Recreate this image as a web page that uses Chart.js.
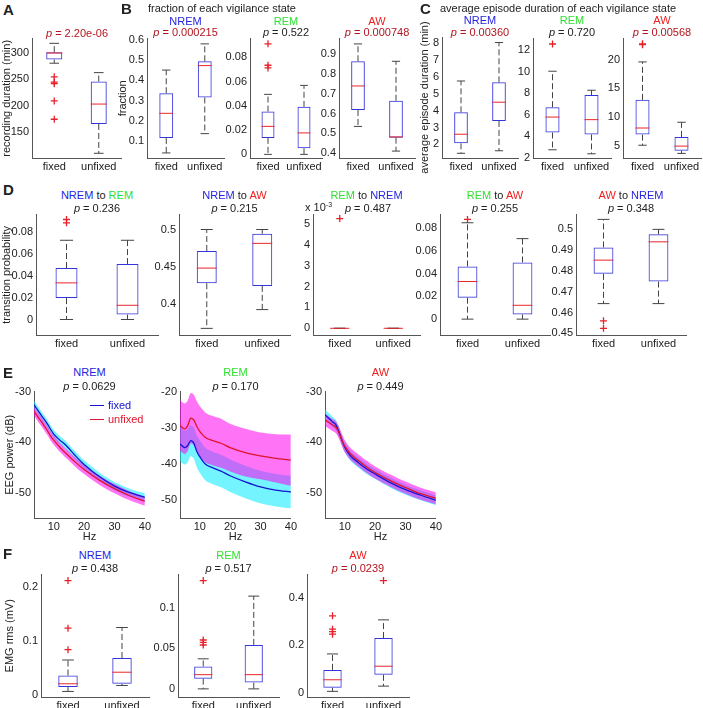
<!DOCTYPE html>
<html>
<head>
<meta charset="utf-8">
<script src="https://cdn.jsdelivr.net/npm/chart.js@4.4.1/dist/chart.umd.min.js"></script>
<style>
body { margin: 0; background: #fff; }
#fig { position: relative; width: 703px; height: 708px; overflow: hidden; font-family: "Liberation Sans", Arial, sans-serif; color: #222; }
#fig canvas { position: absolute; }
.t { position: absolute; white-space: nowrap; font-size: 11px; line-height: 1; }
.c { transform: translate(-50%, -50%); }
.l { transform: translateY(-50%); }
.L { position: absolute; font-weight: bold; font-size: 15px; line-height: 1; }
.ln { position: absolute; height: 1.5px; }
</style>
</head>
<body>
<div id="fig"></div>
<script>
// ---- data ----
const groups = ['fixed', 'unfixed'];

// A: recording duration (min)
const recTicks = [150, 200, 250, 300];
const recBox = [[288, 302], [165, 246]];
const recMed = [300.5, 203];
const recWhisk = [[281, 319], [109, 263]];
const recOut = [[255, 245, 242, 209, 174], []];

// B: fraction of each state
const fracNremTicks = [0.1, 0.2, 0.3, 0.4, 0.5, 0.6];
const fracNremBox = [[0.116, 0.336], [0.315, 0.493]];
const fracNremMed = [0.237, 0.472];
const fracNremWhisk = [[0.042, 0.45], [0.137, 0.579]];
const fracNremOut = [[], []];

const fracRemTicks = [0, 0.02, 0.04, 0.06, 0.08];
const fracRemBox = [[0.0136, 0.0353], [0.0051, 0.0392]];
const fracRemMed = [0.0231, 0.0177];
const fracRemWhisk = [[0, 0.0495], [0, 0.0569]];
const fracRemOut = [[0.0912, 0.0735, 0.0713], []];

const fracAwTicks = [0.4, 0.5, 0.6, 0.7, 0.8, 0.9];
const fracAwBox = [[0.6185, 0.865], [0.478, 0.665]];
const fracAwMed = [0.74, 0.482];
const fracAwWhisk = [[0.535, 0.953], [0.41, 0.865]];
const fracAwOut = [[], []];

// C: average episode duration (min)
const durNremTicks = [2, 3, 4, 5, 6, 7, 8];
const durNremBox = [[2.06, 3.9], [3.39, 5.68]];
const durNremMed = [2.6, 4.5];
const durNremWhisk = [[1.47, 5.76], [1.62, 8.04]];
const durNremOut = [[], []];

const durRemTicks = [2, 4, 6, 8, 10, 12];
const durRemBox = [[4.36, 6.7], [4.18, 7.82]];
const durRemMed = [5.79, 5.55];
const durRemWhisk = [[2.76, 10.03], [2.39, 8.27]];
const durRemOut = [[12.55], []];

const durAwTicks = [5, 10, 15, 20];
const durAwBox = [[6.95, 13.0], [4.15, 6.55]];
const durAwMed = [8.1, 4.95];
const durAwWhisk = [[5.1, 19.6], [3.68, 9.1]];
const durAwOut = [[22.75, 22.6], []];

// D: transition probability
const nrToRemTicks = [0, 0.02, 0.04, 0.06, 0.08];
const nrToRemBox = [[0.0196, 0.0471], [0.0045, 0.0507]];
const nrToRemMed = [0.0335, 0.013];
const nrToRemWhisk = [[0, 0.0725], [0, 0.0725]];
const nrToRemOut = [[0.0915, 0.0885], []];

const nrToAwTicks = [0.4, 0.45, 0.5];
const nrToAwBox = [[0.4279, 0.4712], [0.4243, 0.4942]];
const nrToAwMed = [0.4482, 0.4814];
const nrToAwWhisk = [[0.3673, 0.5], [0.3925, 0.5]];
const nrToAwOut = [[], []];

// REM to NREM, in units of 1e-3
const remToNrTicks = [0, 1, 2, 3, 4, 5];
const remToNrBox = [[0, 0], [0, 0]];
const remToNrMed = [0, 0];
const remToNrWhisk = [[0, 0], [0, 0]];
const remToNrOut = [[5.25], []];

const remToAwTicks = [0, 0.02, 0.04, 0.06, 0.08];
const remToAwBox = [[0.0189, 0.0465], [0.0041, 0.05]];
const remToAwMed = [0.0332, 0.0122];
const remToAwWhisk = [[0, 0.085], [0, 0.071]];
const remToAwOut = [[0.0879], []];

const awToNrTicks = [0.45, 0.46, 0.47, 0.48, 0.49, 0.5];
const awToNrBox = [[0.4786, 0.4913], [0.4749, 0.4976]];
const awToNrMed = [0.4852, 0.494];
const awToNrWhisk = [[0.4643, 0.5048], [0.4643, 0.5]];
const awToNrOut = [[0.456, 0.4524], []];

// E: EEG power spectra (dB), mean and error band
const hz = [3.5, 5, 6, 7, 8, 9, 10, 12, 14, 17, 20, 25, 30, 35, 40];
const hzTicks = [10, 20, 30, 40];
const eegTicks = [-50, -40, -30];
const eegRemTicks = [-50, -40, -30, -20];

const nremFixed   = [-32.6, -33.9, -34.8, -35.6, -36.5, -37.5, -38.4, -39.6, -40.6, -42.6, -44.4, -46.8, -48.7, -50.0, -50.9];
const nremUnfixed = [-33.9, -35.2, -36.0, -36.9, -37.8, -38.8, -39.6, -41.0, -42.2, -43.9, -45.4, -47.5, -49.2, -50.6, -51.7];
const nremFixedErr   = [0.8, 0.8, 0.8, 0.8, 0.8, 0.8, 0.8, 0.8, 0.8, 0.8, 0.8, 0.8, 0.8, 0.8, 0.8];
const nremUnfixedErr = [0.9, 0.9, 0.9, 0.9, 0.9, 0.9, 0.9, 0.9, 0.9, 0.9, 0.9, 0.9, 0.9, 0.9, 0.9];

const remFixed   = [-34.5, -35.5, -35.0, -33.6, -34.2, -36.5, -38.0, -40.2, -41.0, -42.0, -43.3, -45.0, -46.4, -47.3, -47.8];
const remUnfixed = [-29.4, -30.3, -29.5, -27.4, -27.8, -29.6, -31.0, -32.8, -33.5, -34.3, -35.5, -36.9, -37.8, -38.5, -39.0];
const remFixedErr   = [4.8, 4.7, 4.6, 4.3, 4.3, 4.4, 4.5, 4.5, 4.5, 4.5, 4.5, 4.5, 4.5, 4.5, 4.5];
const remUnfixedErr = [7.0, 7.0, 7.0, 7.0, 7.0, 7.0, 7.0, 6.9, 6.8, 6.8, 6.6, 6.6, 6.5, 6.7, 7.1];

const awFixed   = [-34.6, -35.4, -36.0, -36.5, -37.8, -39.5, -41.0, -42.8, -43.8, -45.2, -46.3, -48.0, -49.4, -50.5, -51.5];
const awUnfixed = [-35.6, -36.2, -36.6, -37.0, -38.0, -39.5, -40.8, -42.4, -43.4, -44.8, -46.0, -47.6, -49.0, -50.2, -51.1];
const awFixedErr   = [1.0, 1.0, 1.0, 1.0, 1.0, 1.0, 1.0, 1.0, 1.0, 1.0, 1.0, 1.0, 1.0, 1.0, 1.0];
const awUnfixedErr = [1.2, 1.2, 1.2, 1.2, 1.2, 1.2, 1.2, 1.2, 1.2, 1.2, 1.2, 1.2, 1.2, 1.2, 1.2];

// F: EMG rms (mV)
const emgNremTicks = [0, 0.1, 0.2];
const emgNremBox = [[0.0153, 0.0367], [0.0214, 0.0691]];
const emgNremMed = [0.0214, 0.0428];
const emgNremWhisk = [[0.0073, 0.0654], [0.0183, 0.1254]];
const emgNremOut = [[0.2122, 0.1242, 0.0844], []];

const emgRemTicks = [0, 0.05, 0.1];
const emgRemBox = [[0.0126, 0.0276], [0.0077, 0.0541]];
const emgRemMed = [0.0175, 0.0175];
const emgRemWhisk = [[0, 0.037], [0, 0.1142]];
const emgRemOut = [[0.1333, 0.0602, 0.0573, 0.054], []];

const emgAwTicks = [0, 0.2, 0.4];
const emgAwBox = [[0.0222, 0.097], [0.0764, 0.2306]];
const emgAwMed = [0.0556, 0.1125];
const emgAwWhisk = [[0.007, 0.164], [0.029, 0.307]];
const emgAwOut = [[0.324, 0.268, 0.258, 0.247], [0.472]];

// ---- styles ----
const FONT = '"Liberation Sans", Arial, sans-serif';
const BOX_BLUE = '#3434dc';
const MED_RED = '#e8262b';
const OUT_RED = '#e8202a';
const AXIS = '#555';
const C_NREM = '#2424e0', C_REM = '#30e030', C_AW = '#ee2020', C_SIG = '#b4141e';

Chart.defaults.font.family = FONT;
Chart.defaults.font.size = 11;
Chart.defaults.color = '#222';

// whiskers, caps and medians for the box datasets
Chart.register({
    id: 'boxWhiskers',
    afterDatasetsDraw(chart) {
        const ds = chart.data.datasets[0];
        if (!ds.whiskers) return;
        const y = chart.scales.y;
        const ctx = chart.ctx;
        const seg = (x1, y1, x2, y2) => { ctx.beginPath(); ctx.moveTo(x1, y1); ctx.lineTo(x2, y2); ctx.stroke(); };
        chart.getDatasetMeta(0).data.forEach((bar, i) => {
            const [lo, hi] = ds.whiskers[i];
            const [q1, q3] = ds.data[i];
            const x = bar.x, hw = bar.width / 2, cw = bar.width * 0.3;
            const yLo = y.getPixelForValue(lo), yHi = y.getPixelForValue(hi);
            ctx.save();
            ctx.lineWidth = 1;
            ctx.strokeStyle = '#444';
            ctx.setLineDash([6, 3]);
            seg(x, y.getPixelForValue(q3), x, yHi);
            seg(x, y.getPixelForValue(q1), x, yLo);
            ctx.setLineDash([]);
            seg(x - cw, yHi, x + cw, yHi);
            seg(x - cw, yLo, x + cw, yLo);
            ctx.strokeStyle = MED_RED;
            const ym = y.getPixelForValue(ds.medians[i]);
            seg(x - hw, ym, x + hw, ym);
            ctx.restore();
        });
    }
});

const fig = document.getElementById('fig');
const fmt = v => String(Math.round(v * 1e6) / 1e6);

function makeCanvas(g) {
    const pt = g.pt || 8, pr = 8;
    const c = document.createElement('canvas');
    c.width = g.x1 - g.x0 + g.yw + pr;
    c.height = g.y1 - g.y0 + pt + g.xh;
    c.style.left = (g.x0 - g.yw) + 'px';
    c.style.top = (g.y0 - pt) + 'px';
    fig.appendChild(c);
    return { c, pt, pr };
}

function baseOptions(p, pt, pr) {
    return {
        responsive: false, animation: false, events: [],
        layout: { padding: { top: pt, right: pr, left: 0, bottom: 0 } },
        plugins: { legend: { display: false }, tooltip: { enabled: false } },
        scales: {
            x: {
                grid: { display: false, drawTicks: false },
                border: { color: AXIS, width: 1 },
                ticks: { padding: 2, autoSkip: false, maxRotation: 0 },
                title: p.xlabel ? { display: true, text: p.xlabel, padding: 0 } : { display: false },
                afterFit(s) { s.height = p.g.xh; }
            },
            y: {
                min: p.min, max: p.max,
                grid: { display: false, drawTicks: false },
                border: { color: AXIS, width: 1 },
                ticks: { padding: 3, callback: v => fmt(v) },
                afterBuildTicks(s) { s.ticks = p.ticks.map(v => ({ value: v })); },
                title: p.ylabel ? { display: true, text: p.ylabel, padding: 0 } : { display: false },
                afterFit(s) { s.width = p.g.yw; }
            }
        }
    };
}

function boxChart(p) {
    const { c, pt, pr } = makeCanvas(p.g);
    const pts = [];
    p.out.forEach((arr, i) => arr.forEach(v => pts.push({ x: groups[i], y: v })));
    new Chart(c, {
        type: 'bar',
        data: {
            labels: groups,
            datasets: [{
                data: p.box, whiskers: p.whisk, medians: p.med,
                backgroundColor: 'rgba(0,0,0,0)', borderColor: BOX_BLUE, borderWidth: 1,
                borderSkipped: false, barPercentage: 0.36, categoryPercentage: 1
            }, {
                type: 'line', data: pts, showLine: false, clip: false,
                pointStyle: 'cross', pointRadius: 3.5, borderColor: OUT_RED, borderWidth: 1.3
            }]
        },
        options: baseOptions(p, pt, pr)
    });
}

function spectrumChart(p) {
    const { c, pt, pr } = makeCanvas(p.g);
    const pts = arr => hz.map((f, i) => ({ x: f, y: arr[i] }));
    const add = (m, e, s) => m.map((v, i) => v + s * e[i]);
    // lower order = drawn on top: lines, then magenta band, then cyan band
    const band = (m, e, color, order) => [
        { data: pts(add(m, e, 1)), fill: '+1', backgroundColor: color, borderWidth: 0, pointRadius: 0, tension: 0.3, order },
        { data: pts(add(m, e, -1)), fill: false, borderWidth: 0, pointRadius: 0, tension: 0.3, order }
    ];
    const opts = baseOptions(p, pt, pr);
    opts.scales.x.type = 'linear';
    opts.scales.x.min = 3.5;
    opts.scales.x.max = 40;
    opts.scales.x.afterBuildTicks = s => { s.ticks = hzTicks.map(v => ({ value: v })); };
    new Chart(c, {
        type: 'line',
        data: {
            datasets: [
                ...band(p.fixed, p.fixedErr, 'rgba(0,235,255,0.55)', 3),
                ...band(p.unfixed, p.unfixedErr, 'rgba(255,0,240,0.55)', 2),
                { data: pts(p.fixed), borderColor: '#1414d2', borderWidth: 1.3, pointRadius: 0, fill: false, tension: 0.3, order: 1 },
                { data: pts(p.unfixed), borderColor: '#e0142a', borderWidth: 1.3, pointRadius: 0, fill: false, tension: 0.3, order: 0 }
            ]
        },
        options: opts
    });
}

// ---- panels ----
const top1 = { y0: 37, y1: 158, xh: 18 };
const rowD = { y0: 213, y1: 335, xh: 18 };
const rowE = { y0: 390, y1: 518, xh: 26 };
const rowF = { y0: 573, y1: 697, xh: 14 };

[
    { g: { ...top1, x0: 32, x1: 121, yw: 32 }, ylabel: 'recording duration (min)', min: 100, max: 328, ticks: recTicks, box: recBox, med: recMed, whisk: recWhisk, out: recOut },
    { g: { ...top1, x0: 147, x1: 224, yw: 31 }, ylabel: 'fraction', min: 0.017, max: 0.605, ticks: fracNremTicks, box: fracNremBox, med: fracNremMed, whisk: fracNremWhisk, out: fracNremOut },
    { g: { ...top1, x0: 250, x1: 322, yw: 28 }, min: -0.003, max: 0.0955, ticks: fracRemTicks, box: fracRemBox, med: fracRemMed, whisk: fracRemWhisk, out: fracRemOut },
    { g: { ...top1, x0: 339, x1: 415, yw: 26 }, min: 0.375, max: 0.98, ticks: fracAwTicks, box: fracAwBox, med: fracAwMed, whisk: fracAwWhisk, out: fracAwOut },
    { g: { ...top1, x0: 442, x1: 518, yw: 24, pt: 24 }, ylabel: 'average episode duration (min)', min: 1.19, max: 8.37, ticks: durNremTicks, box: durNremBox, med: durNremMed, whisk: durNremWhisk, out: durNremOut },
    { g: { ...top1, x0: 533, x1: 611, yw: 26 }, min: 2, max: 13.05, ticks: durRemTicks, box: durRemBox, med: durRemMed, whisk: durRemWhisk, out: durRemOut },
    { g: { ...top1, x0: 623, x1: 701, yw: 26 }, min: 2.88, max: 23.66, ticks: durAwTicks, box: durAwBox, med: durAwMed, whisk: durAwWhisk, out: durAwOut },

    { g: { ...rowD, x0: 36, x1: 158, yw: 36 }, ylabel: 'transition probability', min: -0.0142, max: 0.096, ticks: nrToRemTicks, box: nrToRemBox, med: nrToRemMed, whisk: nrToRemWhisk, out: nrToRemOut },
    { g: { ...rowD, x0: 179, x1: 290, yw: 30 }, min: 0.3584, max: 0.52, ticks: nrToAwTicks, box: nrToAwBox, med: nrToAwMed, whisk: nrToAwWhisk, out: nrToAwOut },
    { g: { ...rowD, x0: 313, x1: 420, yw: 20 }, min: -0.32, max: 5.44, ticks: remToNrTicks, box: remToNrBox, med: remToNrMed, whisk: remToNrWhisk, out: remToNrOut },
    { g: { ...rowD, x0: 440, x1: 550, yw: 32 }, min: -0.014, max: 0.0922, ticks: remToAwTicks, box: remToAwBox, med: remToAwMed, whisk: remToAwWhisk, out: remToAwOut },
    { g: { ...rowD, x0: 576, x1: 686, yw: 32 }, min: 0.4492, max: 0.5071, ticks: awToNrTicks, box: awToNrBox, med: awToNrMed, whisk: awToNrWhisk, out: awToNrOut },

    { g: { ...rowF, x0: 41, x1: 149, yw: 38 }, ylabel: 'EMG rms (mV)', min: -0.003, max: 0.2232, ticks: emgNremTicks, box: emgNremBox, med: emgNremMed, whisk: emgNremWhisk, out: emgNremOut },
    { g: { ...rowF, x0: 178, x1: 279, yw: 30 }, min: -0.01, max: 0.1407, ticks: emgRemTicks, box: emgRemBox, med: emgRemMed, whisk: emgRemWhisk, out: emgRemOut },
    { g: { ...rowF, x0: 307, x1: 409, yw: 30 }, min: -0.0167, max: 0.497, ticks: emgAwTicks, box: emgAwBox, med: emgAwMed, whisk: emgAwWhisk, out: emgAwOut }
].forEach(boxChart);

[
    { g: { ...rowE, x0: 34, x1: 145, yw: 31 }, ylabel: 'EEG power (dB)', xlabel: 'Hz', min: -55, max: -30, ticks: eegTicks, fixed: nremFixed, unfixed: nremUnfixed, fixedErr: nremFixedErr, unfixedErr: nremUnfixedErr },
    { g: { ...rowE, x0: 180, x1: 291, yw: 28 }, xlabel: 'Hz', min: -55, max: -20, ticks: eegRemTicks, fixed: remFixed, unfixed: remUnfixed, fixedErr: remFixedErr, unfixedErr: remUnfixedErr },
    { g: { ...rowE, x0: 325, x1: 436, yw: 28 }, xlabel: 'Hz', min: -55, max: -30, ticks: eegTicks, fixed: awFixed, unfixed: awUnfixed, fixedErr: awFixedErr, unfixedErr: awUnfixedErr }
].forEach(spectrumChart);

// ---- text ----
function txt(html, x, y, cls = 'c', color) {
    const d = document.createElement('div');
    d.className = 't ' + cls;
    d.style.left = x + 'px';
    d.style.top = y + 'px';
    if (color) d.style.color = color;
    d.innerHTML = html;
    fig.appendChild(d);
}
function letter(s, x, y) {
    const d = document.createElement('div');
    d.className = 'L';
    d.style.left = x + 'px';
    d.style.top = y + 'px';
    d.textContent = s;
    fig.appendChild(d);
}
const col = (s, c) => `<span style="color:${c}">${s}</span>`;
const NR = col('NREM', C_NREM), RE = col('REM', C_REM), AWs = col('AW', C_AW);
const pv = v => `<i>p</i> = ${v}`;

letter('A', 3, 2); letter('B', 121, 1); letter('C', 420, 1);
letter('D', 3, 182); letter('E', 3, 365); letter('F', 3, 546);

txt(pv('2.20e-06'), 77, 33, 'c', C_SIG);
txt('fraction of each vigilance state', 148, 8, 'l');
txt(NR, 185.5, 21); txt(pv('0.000215'), 185.5, 32, 'c', C_SIG);
txt(RE, 286, 21);   txt(pv('0.522'), 286, 32);
txt(AWs, 377, 21);  txt(pv('0.000748'), 377, 32, 'c', C_SIG);

txt('average episode duration of each vigilance state', 440, 8, 'l');
txt(NR, 480, 20);   txt(pv('0.00360'), 480, 32, 'c', C_SIG);
txt(RE, 572, 20);   txt(pv('0.720'), 572, 32);
txt(AWs, 662, 20);  txt(pv('0.00568'), 662, 32, 'c', C_SIG);

txt(NR + ' to ' + RE, 97, 195);    txt(pv('0.236'), 97, 208);
txt(NR + ' to ' + AWs, 234.5, 195); txt(pv('0.215'), 234.5, 208);
txt(RE + ' to ' + NR, 366.5, 195);  txt(pv('0.487'), 368, 208);
txt('x 10<sup style="font-size:7px">-3</sup>', 305, 207, 'l');
txt(RE + ' to ' + AWs, 495, 195);   txt(pv('0.255'), 495, 208);
txt(AWs + ' to ' + NR, 631, 195);   txt(pv('0.348'), 631, 208);

txt(NR, 89.5, 372);  txt(pv('0.0629'), 89.5, 386);
txt(RE, 235.5, 372); txt(pv('0.170'), 235.5, 386);
txt(AWs, 380.5, 372); txt(pv('0.449'), 380.5, 386);

// legend of panel E
const lg = (x, y, c) => { const d = document.createElement('div'); d.className = 'ln'; d.style.left = x + 'px'; d.style.top = y + 'px'; d.style.width = '14px'; d.style.background = c; fig.appendChild(d); };
lg(90, 404.5, '#1414d2'); txt('fixed', 108, 405, 'l', '#1414d2');
lg(90, 418.5, '#e0142a'); txt('unfixed', 108, 419, 'l', '#e0142a');

txt(NR, 95, 555);    txt(pv('0.438'), 95, 568);
txt(RE, 228.5, 555); txt(pv('0.517'), 228.5, 568);
txt(AWs, 358, 555);  txt(pv('0.0239'), 358, 568, 'c', C_SIG);
</script>
</body>
</html>
